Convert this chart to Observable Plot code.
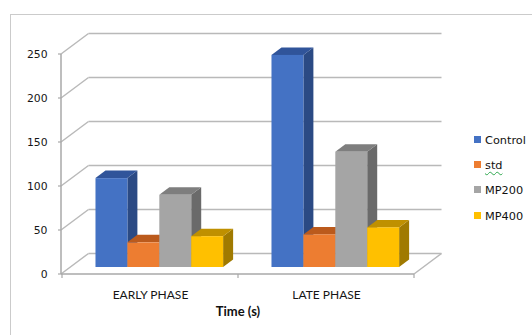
<!DOCTYPE html>
<html>
<head>
<meta charset="utf-8">
<script src="https://cdn.jsdelivr.net/npm/d3@7"></script>
<script src="https://cdn.jsdelivr.net/npm/@observablehq/plot@0.6"></script>
<style>
  body { margin: 0; background: #fff; }
  #chart { position: relative; width: 532px; height: 335px; overflow: hidden; background: #fff; }
  #chart-border { position: absolute; left: 10px; top: 14px; width: 600px; height: 400px; border: 1px solid #cbcbcb; }
  #plot { position: absolute; left: 0; top: 0; }
  #plot svg g[aria-label^="y-axis"] text { font-family: "DejaVu Sans", sans-serif; font-size: 10.8px; fill: #161616; }
  #plot svg g[aria-label^="x-axis"] text { font-family: Lato, sans-serif; font-size: 12px; fill: #161616; }
  .legend-item { position: absolute; left: 474px; font: 11.3px "DejaVu Sans", sans-serif; color: #111; white-space: nowrap; line-height: 14px; }
  .legend-item .sw { display: inline-block; width: 7px; height: 7px; margin-right: 4px; vertical-align: 1px; }
  .legend-item.spell span.lbl { text-decoration: underline wavy #2fa84f; text-decoration-thickness: 1px; text-underline-offset: 2px; }
</style>
</head>
<body>
<div id="chart">
  <div id="chart-border"></div>
  <div id="plot"></div>
</div>
<script>
// Categories and series
const phases = ["EARLY PHASE", "LATE PHASE"];
const series = ["Control", "std", "MP200", "MP400"];

// Values per series (early, late)
const earlyValues = [101, 28, 82, 35];
const lateValues = [241, 37, 131, 45];

// Value axis ticks
const yTicks = [0, 50, 100, 150, 200, 250];

// Face colours: front, top, side
const frontColors = ["#4472C4", "#ED7D31", "#A5A5A5", "#FFC000"];
const topColors = ["#30549a", "#bb5a1c", "#7e7e7e", "#bf9000"];
const sideColors = ["#2b4a84", "#a64f16", "#6a6a6a", "#a07a00"];

const rows = [];
phases.forEach((phase, p) => {
  const vals = p === 0 ? earlyValues : lateValues;
  series.forEach((s, i) => rows.push({phase, series: s, si: i, value: vals[i]}));
});

// 3D projection offsets (pixels)
const WALL = [27.5, -20.5];      // back wall relative to front plane
const BAR_PLANE = [9.3, -7];      // front face of bars
const BAR_DEPTH = [10, -7.5];     // depth of each bar
const GRID = "#b9b9b9";

function line(g, x1, y1, x2, y2, stroke = GRID, w = 1.5) {
  g.append("line").attr("x1", x1).attr("y1", y1).attr("x2", x2).attr("y2", y2)
    .attr("stroke", stroke).attr("stroke-width", w);
}

// Walls, floor and axis lines of the 3D box
const walls = Plot.ruleY(yTicks, {
  y: d => d,
  render(index, scales, values, dim) {
    const g = d3.create("svg:g");
    const L = dim.marginLeft, R = dim.width - dim.marginRight;
    const y0 = scales.y(0), yTop = scales.y(d3.max(yTicks));
    for (const i of index) {
      const y = values.y[i];
      line(g, L + WALL[0], y + WALL[1], R + WALL[0], y + WALL[1]);
      line(g, L, y, L + WALL[0], y + WALL[1]);
      line(g, L - 3, y, L, y, "#a8a8a8", 1.2);
    }
    line(g, L, yTop, L, y0, "#a8a8a8", 1.5);
    line(g, L, y0, R, y0, "#a8a8a8", 1.5);
    line(g, R, y0, R + WALL[0], y0 + WALL[1]);
    const bw = scales.x.bandwidth();
    const edges = phases.map(p => scales.x(p)).concat([scales.x(phases[phases.length - 1]) + bw]);
    for (const xe of edges) line(g, xe, y0, xe, y0 + 4, "#a8a8a8", 1.2);
    return g.node();
  }
});

// Extruded bars: front, top and side faces
const bars = Plot.barY(rows, {
  x: "phase",
  y1: () => 0,
  y2: "value",
  render(index, scales, values) {
    const g = d3.create("svg:g");
    const bw = scales.x.bandwidth();
    const sub = d3.scaleBand(series, [0, bw]).paddingInner(0).paddingOuter(0.758);
    const w = sub.bandwidth();
    for (const i of index) {
      const d = rows[i];
      const x0 = values.x[i] + sub(d.series) + BAR_PLANE[0];
      const x1 = x0 + w;
      const yb = values.y1[i] + BAR_PLANE[1];
      const yt = values.y2[i] + BAR_PLANE[1];
      const [dx, dy] = BAR_DEPTH;
      // side
      g.append("path")
        .attr("d", `M${x1},${yb}L${x1 + dx},${yb + dy}L${x1 + dx},${yt + dy}L${x1},${yt}Z`)
        .attr("fill", sideColors[d.si]);
      // top
      g.append("path")
        .attr("d", `M${x0},${yt}L${x1},${yt}L${x1 + dx},${yt + dy}L${x0 + dx},${yt + dy}Z`)
        .attr("fill", topColors[d.si]);
      // front
      g.append("rect")
        .attr("x", x0).attr("y", yt).attr("width", w).attr("height", yb - yt)
        .attr("fill", frontColors[d.si]);
    }
    return g.node();
  }
});

const chart = Plot.plot({
  width: 532,
  height: 335,
  marginLeft: 61,
  marginRight: 118,
  marginTop: 54,
  marginBottom: 61,
  style: {background: "transparent", overflow: "visible"},
  x: {domain: phases, padding: 0, tickSize: 0, tickPadding: 16, label: null},
  y: {domain: [0, 250], ticks: yTicks, tickSize: 0, tickPadding: 14, label: null},
  marks: [
    walls,
    bars,
    Plot.text(["Time (s)"], {
      frameAnchor: "bottom", dy: 41, text: d => d,
      fontFamily: "Lato, sans-serif", fontSize: 13, fontWeight: "bold", fill: "#111"
    })
  ]
});
document.getElementById("plot").append(chart);

// Legend
const legendTop = 140.5, legendStep = 25.4;
series.forEach((s, i) => {
  const item = document.createElement("div");
  item.className = "legend-item" + (s === "std" ? " spell" : "");
  item.style.top = (legendTop + legendStep * i - 7) + "px";
  item.innerHTML = `<span class="sw" style="background:${frontColors[i]}"></span><span class="lbl">${s}</span>`;
  document.getElementById("chart").append(item);
});
</script>
</body>
</html>
